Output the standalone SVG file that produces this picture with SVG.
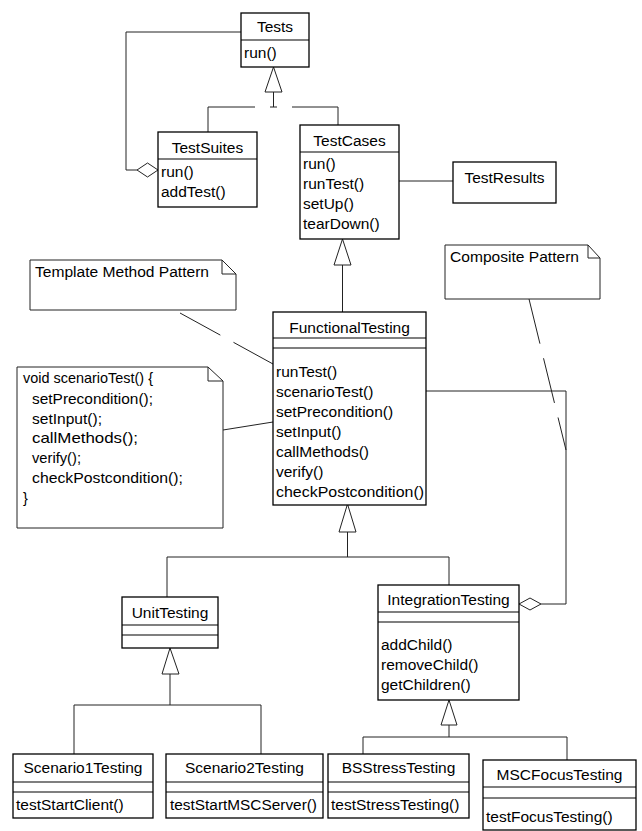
<svg xmlns="http://www.w3.org/2000/svg" width="642" height="831" viewBox="0 0 642 831">
<style>
.box{fill:#fff;stroke:#000;stroke-width:1.3}
.div{stroke:#000;stroke-width:1.1}
.note{fill:#fff;stroke:#222;stroke-width:1}
.ln{fill:none;stroke:#222;stroke-width:1}
.dash{fill:none;stroke:#222;stroke-width:1;stroke-dasharray:46 15}
.tri{fill:#fff;stroke:#222;stroke-width:1}
text{font-family:"Liberation Sans",Arial,sans-serif;font-size:15.5px;fill:#000}
.c{text-anchor:middle}
.n{font-size:14.5px}
</style>
<rect width="642" height="831" fill="#fff"/>
<g id="connectors">
  <polyline class="ln" points="241,32 126,32 126,170 137,170"/>
  <polygon class="tri" points="137,170 147.5,163 158,170 147.5,177"/>
  <polygon class="tri" points="273.5,67 265,92 282,92"/>
  <line class="ln" x1="273.5" y1="92" x2="273.5" y2="107"/>
  <polyline class="ln" points="208,132 208,107 255,107"/>
  <line class="ln" x1="270" y1="107" x2="277" y2="107"/>
  <polyline class="ln" points="292,107 338,107 338,125"/>
  <line class="ln" x1="399" y1="181" x2="453" y2="181"/>
  <polygon class="tri" points="342.5,239 334,265 351,265"/>
  <line class="ln" x1="342.5" y1="265" x2="342.5" y2="312"/>
  <line class="dash" x1="180" y1="313" x2="273" y2="364"/>
  <line class="ln" x1="223" y1="430" x2="273" y2="422"/>
  <line class="dash" x1="529" y1="299" x2="566" y2="450"/>
  <polyline class="ln" points="426,391 566,391 566,604 541,604"/>
  <polygon class="tri" points="519,604 530,598 541,604 530,610"/>
  <polygon class="tri" points="347.5,504 339,532 356,532"/>
  <line class="ln" x1="347.5" y1="532" x2="347.5" y2="557"/>
  <polyline class="ln" points="167,597 167,557 449,557 449,585"/>
  <polygon class="tri" points="170,648 162,674 179,674"/>
  <line class="ln" x1="170" y1="674" x2="170" y2="705"/>
  <polyline class="ln" points="74,754 74,705 261,705 261,754"/>
  <polygon class="tri" points="449,700 441,725 457,725"/>
  <line class="ln" x1="449" y1="725" x2="449" y2="737"/>
  <polyline class="ln" points="363,754 363,737 567,737 567,760"/>
</g>
<g id="Tests">
  <rect class="box" x="241" y="13" width="68" height="54"/>
  <line class="div" x1="241" y1="40" x2="309" y2="40"/>
  <text class="c" x="275" y="32">Tests</text>
  <text x="244" y="58">run()</text>
</g>
<g id="TestSuites">
  <rect class="box" x="158" y="132" width="99" height="75"/>
  <line class="div" x1="158" y1="159" x2="257" y2="159"/>
  <text class="c" x="207.5" y="153">TestSuites</text>
  <text x="161" y="177">run()</text>
  <text x="161" y="197">addTest()</text>
</g>
<g id="TestCases">
  <rect class="box" x="300" y="125" width="99" height="114"/>
  <line class="div" x1="300" y1="152" x2="399" y2="152"/>
  <text class="c" x="349.5" y="146">TestCases</text>
  <text x="303" y="169">run()</text>
  <text x="303" y="189">runTest()</text>
  <text x="303" y="209">setUp()</text>
  <text x="303" y="229">tearDown()</text>
</g>
<g id="TestResults">
  <rect class="box" x="453" y="162" width="103" height="41"/>
  <text class="c" x="504.5" y="183">TestResults</text>
</g>
<g id="TemplateNote">
  <path class="note" d="M30,260 H222 L236,274 V310 H30 Z M222,260 V274 H236"/>
  <text x="35" y="277" textLength="174" lengthAdjust="spacingAndGlyphs">Template Method Pattern</text>
</g>
<g id="CompositeNote">
  <path class="note" d="M445,245 H588 L600,258 V299 H445 Z M588,245 V258 H600"/>
  <text x="450" y="262" textLength="129" lengthAdjust="spacingAndGlyphs">Composite Pattern</text>
</g>
<g id="ScenarioNote">
  <path class="note" d="M17,367 H208 L223,381 V528 H17 Z M208,367 V381 H223"/>
  <text class="n" x="23" y="383" textLength="130" lengthAdjust="spacingAndGlyphs">void scenarioTest() {</text>
  <text class="n" x="32" y="404" textLength="121" lengthAdjust="spacingAndGlyphs">setPrecondition();</text>
  <text class="n" x="32" y="424" textLength="70" lengthAdjust="spacingAndGlyphs">setInput();</text>
  <text class="n" x="32" y="443" textLength="106" lengthAdjust="spacingAndGlyphs">callMethods();</text>
  <text class="n" x="32" y="463" textLength="49" lengthAdjust="spacingAndGlyphs">verify();</text>
  <text class="n" x="32" y="483" textLength="151" lengthAdjust="spacingAndGlyphs">checkPostcondition();</text>
  <text class="n" x="23" y="503">}</text>
</g>
<g id="FunctionalTesting">
  <rect class="box" x="273" y="312" width="153" height="193"/>
  <line class="div" x1="273" y1="338" x2="426" y2="338"/>
  <line class="div" x1="273" y1="348" x2="426" y2="348"/>
  <text class="c" x="349.5" y="333">FunctionalTesting</text>
  <text x="276" y="377">runTest()</text>
  <text x="276" y="397">scenarioTest()</text>
  <text x="276" y="417">setPrecondition()</text>
  <text x="276" y="437">setInput()</text>
  <text x="276" y="457">callMethods()</text>
  <text x="276" y="477">verify()</text>
  <text x="276" y="497" textLength="148" lengthAdjust="spacingAndGlyphs">checkPostcondition()</text>
</g>
<g id="UnitTesting">
  <rect class="box" x="122" y="597" width="96" height="51"/>
  <line class="div" x1="122" y1="625" x2="218" y2="625"/>
  <line class="div" x1="122" y1="635" x2="218" y2="635"/>
  <text class="c" x="170" y="618">UnitTesting</text>
</g>
<g id="IntegrationTesting">
  <rect class="box" x="378" y="585" width="141" height="115"/>
  <line class="div" x1="378" y1="612" x2="519" y2="612"/>
  <line class="div" x1="378" y1="622" x2="519" y2="622"/>
  <text class="c" x="448.5" y="605">IntegrationTesting</text>
  <text x="381" y="650">addChild()</text>
  <text x="381" y="670">removeChild()</text>
  <text x="381" y="690">getChildren()</text>
</g>
<g id="Scenario1Testing">
  <rect class="box" x="13" y="754" width="140" height="64"/>
  <line class="div" x1="13" y1="782" x2="153" y2="782"/>
  <line class="div" x1="13" y1="792" x2="153" y2="792"/>
  <text class="c" x="83" y="773">Scenario1Testing</text>
  <text x="16" y="810">testStartClient()</text>
</g>
<g id="Scenario2Testing">
  <rect class="box" x="166" y="754" width="157" height="64"/>
  <line class="div" x1="166" y1="782" x2="323" y2="782"/>
  <line class="div" x1="166" y1="792" x2="323" y2="792"/>
  <text class="c" x="244.5" y="773">Scenario2Testing</text>
  <text x="170" y="810" textLength="147" lengthAdjust="spacingAndGlyphs">testStartMSCServer()</text>
</g>
<g id="BSStressTesting">
  <rect class="box" x="328" y="754" width="141" height="64"/>
  <line class="div" x1="328" y1="782" x2="469" y2="782"/>
  <line class="div" x1="328" y1="792" x2="469" y2="792"/>
  <text class="c" x="398.5" y="773">BSStressTesting</text>
  <text x="331" y="810">testStressTesting()</text>
</g>
<g id="MSCFocusTesting">
  <rect class="box" x="483" y="760" width="153" height="70"/>
  <line class="div" x1="483" y1="787" x2="636" y2="787"/>
  <line class="div" x1="483" y1="798" x2="636" y2="798"/>
  <text class="c" x="559.5" y="780">MSCFocusTesting</text>
  <text x="486" y="822">testFocusTesting()</text>
</g>
</svg>
